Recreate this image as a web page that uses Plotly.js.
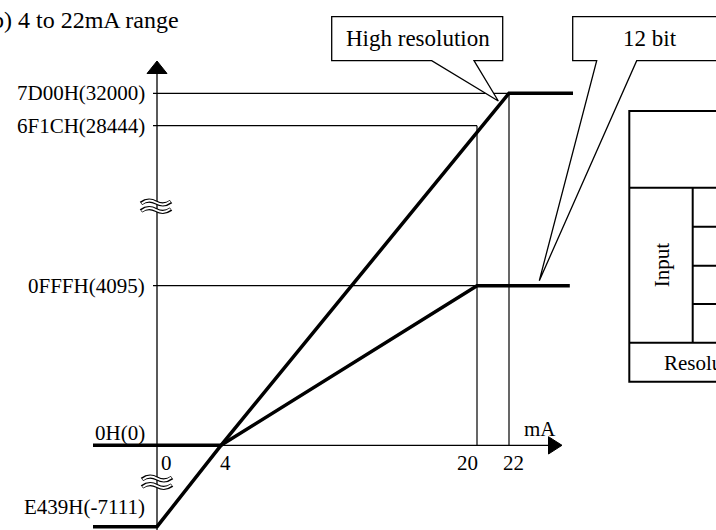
<!DOCTYPE html>
<html><head><meta charset="utf-8">
<script src="https://cdn.plot.ly/plotly-3.0.1.min.js"></script>
<style>html,body{margin:0;padding:0;overflow:hidden;background:#fff}</style>
</head><body>
<div id="chart" style="width:716px;height:530px"></div>
<script>
// ---------------- data ----------------
const yTickValues = [32000, 28444, 4095, 0, -7111];
const yTickLabels = ['7D00H(32000)', '6F1CH(28444)', '0FFFH(4095)', '0H(0)', 'E439H(-7111)'];
const xTickValues = [0, 4, 20, 22];
const xTickLabels = ['0', '4', '20', '22'];
const hiResX = [-4, 0, 4, 22, 26];
const hiResY = [-7111, -7111, 0, 32000, 32000];
const bit12X = [-4, 4, 20, 25.8];
const bit12Y = [0, 0, 4095, 4095];
const guideLevels = [32000, 28444, 4095];
const guideEnds = [22, 20, 20];
const dropX = [20, 22];
const dropTop = [28444, 32000];

// ---------------- layout helpers ----------------
const W = 716, H = 530;
const FONT = 'Liberation Serif, Times New Roman, serif';
const xScale = {origin: 157, perUnit: 16};
const xMin = -xScale.origin / xScale.perUnit, xMax = (W - xScale.origin) / xScale.perUnit;
// broken (non-linear) value axis: anchor rows on screen
const yAnchorVals = [-7111, 0, 4095, 28444, 32000];
const yAnchorRows = [526.7, 445.3, 285.7, 125.7, 93.3];
function yd(v) {
  let i = 0;
  while (i < yAnchorVals.length - 2 && v > yAnchorVals[i + 1]) i++;
  const v0 = yAnchorVals[i], v1 = yAnchorVals[i + 1];
  const r = yAnchorRows[i] + (v - v0) / (v1 - v0) * (yAnchorRows[i + 1] - yAnchorRows[i]);
  return H - r;
}
const fx = p => p / W, fy = p => 1 - p / H;
const pathPx = (pts, close) => 'M ' + pts.map(([x, y]) => fx(x) + ',' + fy(y)).join(' L ') + (close ? ' Z' : '');
function tilde(cx, cy, w, a) {
  const x0 = cx - w / 2;
  const P = (x, y) => fx(x) + ',' + fy(y);
  return 'M ' + P(x0, cy + a * 0.5) +
    ' C ' + P(x0 + w / 6, cy - a * 1.5) + ' ' + P(x0 + w / 3, cy - a * 1.5) + ' ' + P(x0 + w / 2, cy) +
    ' C ' + P(x0 + 2 * w / 3, cy + a * 1.5) + ' ' + P(x0 + 5 * w / 6, cy + a * 1.5) + ' ' + P(x0 + w, cy - a * 0.5);
}

// ---------------- traces ----------------
const traces = [];
guideLevels.forEach((v, i) => {
  traces.push({x: [-0.25, guideEnds[i]], y: [yd(v), yd(v)], mode: 'lines',
    line: {color: '#000', width: 1.2}, hoverinfo: 'skip'});
});
dropX.forEach((x, i) => {
  traces.push({x: [x, x], y: [yd(dropTop[i]), yd(0)], mode: 'lines',
    line: {color: '#000', width: 1.2}, hoverinfo: 'skip'});
});
traces.push({x: bit12X, y: bit12Y.map(yd), mode: 'lines', line: {color: '#000', width: 3.5}, hoverinfo: 'skip'});
traces.push({x: hiResX, y: hiResY.map(yd), mode: 'lines', line: {color: '#000', width: 3.5}, hoverinfo: 'skip'});

// ---------------- shapes ----------------
const thin = {color: '#000', width: 1.3};
const shapes = [
  // value axis
  {type: 'line', xref: 'x', yref: 'paper', x0: 0, x1: 0, y0: 0, y1: fy(72), line: thin},
  {type: 'path', xref: 'paper', yref: 'paper', path: pathPx([[157, 61], [147, 73.5], [167, 73.5]], true),
   fillcolor: '#000', line: {color: '#000', width: 1}},
  // current axis
  {type: 'line', xref: 'x', yref: 'y', x0: 0, x1: (549 - xScale.origin) / xScale.perUnit, y0: yd(0), y1: yd(0), line: thin},
  {type: 'path', xref: 'paper', yref: 'paper', path: pathPx([[562, 445.3], [548.5, 436.7], [548.5, 454]], true),
   fillcolor: '#000', line: {color: '#000', width: 1}},
  // callouts
  {type: 'path', xref: 'paper', yref: 'paper', fillcolor: '#fff', line: thin,
   path: pathPx([[331.7, 16.7], [502.7, 16.7], [502.7, 60.7], [474, 60.7], [498.3, 101], [431.7, 60.7], [331.7, 60.7]], true)},
  {type: 'path', xref: 'paper', yref: 'paper', fillcolor: '#fff', line: thin,
   path: pathPx([[572.7, 16.7], [730, 16.7], [730, 60.7], [636.7, 60.7], [539.3, 280.7], [596.7, 60.7], [572.7, 60.7]], true)},
  // table
  {type: 'path', xref: 'paper', yref: 'paper', line: {color: '#000', width: 2},
   path: pathPx([[730, 111], [629.3, 111], [629.3, 381.7], [730, 381.7]], false)},
  {type: 'path', xref: 'paper', yref: 'paper', line: {color: '#000', width: 2}, path: pathPx([[629.3, 187.7], [730, 187.7]], false)},
  {type: 'path', xref: 'paper', yref: 'paper', line: {color: '#000', width: 2}, path: pathPx([[629.3, 342.7], [730, 342.7]], false)},
  {type: 'path', xref: 'paper', yref: 'paper', line: {color: '#000', width: 2}, path: pathPx([[692.7, 187.7], [692.7, 342.7]], false)},
  {type: 'path', xref: 'paper', yref: 'paper', line: {color: '#000', width: 2}, path: pathPx([[692.7, 226.7], [730, 226.7]], false)},
  {type: 'path', xref: 'paper', yref: 'paper', line: {color: '#000', width: 2}, path: pathPx([[692.7, 265.7], [730, 265.7]], false)},
  {type: 'path', xref: 'paper', yref: 'paper', line: {color: '#000', width: 2}, path: pathPx([[692.7, 304], [730, 304]], false)}
];
// axis break marks (hollow double tilde)
[[156, 202.5], [156, 210], [157, 478.5], [157, 486]].forEach(([cx, cy]) => {
  shapes.push({type: 'path', xref: 'paper', yref: 'paper', path: tilde(cx, cy, 30, 1.8), line: {color: '#000', width: 4.2}});
});
[[156, 202.5], [156, 210], [157, 478.5], [157, 486]].forEach(([cx, cy]) => {
  shapes.push({type: 'path', xref: 'paper', yref: 'paper', path: tilde(cx, cy, 28.5, 1.8), line: {color: '#fff', width: 1.9}});
});

// ---------------- annotations ----------------
const txt = (text, x, y, size, xanchor, extra) => Object.assign({
  text, x: fx(x), y: fy(y), xref: 'paper', yref: 'paper', showarrow: false,
  xanchor: xanchor || 'center', yanchor: 'middle',
  font: {family: FONT, size: size, color: '#000'}
}, extra || {});
const yLabelShift = [0, 0, 0, 12, 20];
const annotations = [];
yTickValues.forEach((v, i) => {
  annotations.push({text: yTickLabels[i], xref: 'paper', yref: 'y', x: fx(147), y: yd(v) + yLabelShift[i],
    xanchor: 'right', yanchor: 'middle', showarrow: false, font: {family: FONT, size: 21, color: '#000'}});
});
const xLabelShift = [9, 4, -9.5, 4];
xTickValues.forEach((v, i) => {
  annotations.push({text: xTickLabels[i], xref: 'x', yref: 'paper', x: v + xLabelShift[i] / xScale.perUnit, y: fy(463),
    xanchor: 'center', yanchor: 'middle', showarrow: false, font: {family: FONT, size: 21, color: '#000'}});
});
annotations.push(txt('mA', 540, 429, 21));
annotations.push(txt('(b) 4 to 22mA range', 181, 19.5, 24, 'right'));
annotations.push(txt('High resolution', 417.5, 38.7, 23));
annotations.push(txt('12 bit', 650, 38.7, 23));
annotations.push(txt('Input', 661.7, 265.5, 21, 'center', {textangle: -90}));
annotations.push(txt('Resolution', 662, 363, 21, 'left'));

const layout = {
  width: W, height: H, margin: {l: 0, r: 0, t: 0, b: 0, pad: 0},
  paper_bgcolor: '#fff', plot_bgcolor: '#fff', showlegend: false,
  xaxis: {range: [xMin, xMax], visible: false, fixedrange: true},
  yaxis: {range: [0, H], visible: false, fixedrange: true},
  shapes, annotations
};
Plotly.newPlot('chart', traces, layout, {staticPlot: true, displayModeBar: false});
</script>
</body></html>
